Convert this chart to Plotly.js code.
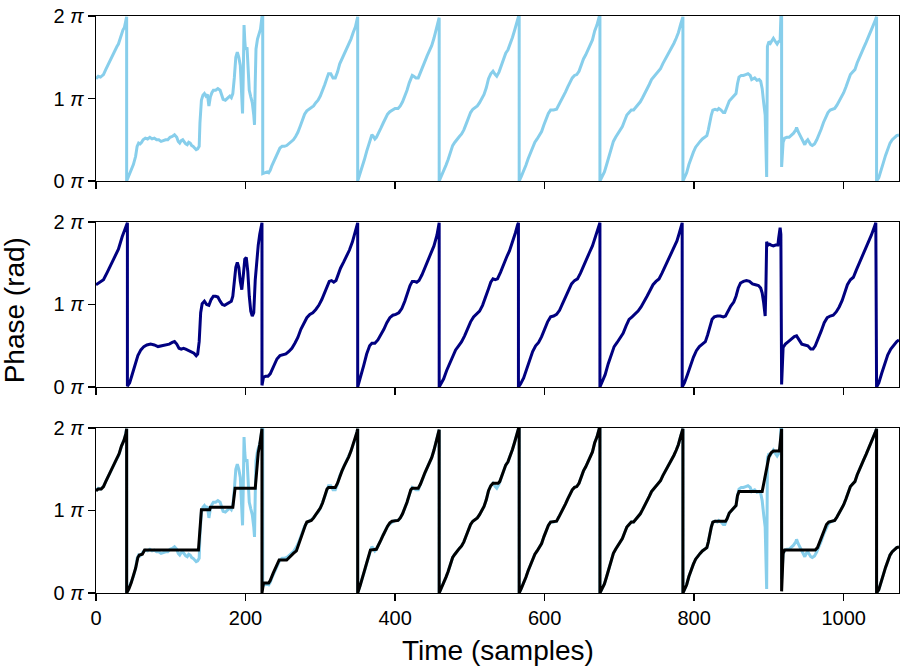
<!DOCTYPE html>
<html>
<head>
<meta charset="utf-8">
<script src="https://cdn.plot.ly/plotly-3.0.1.min.js"></script>
<style>html,body{margin:0;padding:0;background:#fff;}#chart{width:912px;height:667px;}</style>
</head>
<body>
<div id="chart"></div>
<script>
// Phase values are in units of pi (0 .. 2)
const rawTime = [
0,3,6,8,10,13,16,19,22,25,28,30,32,34,36,38,40,41,41,
44,47,50,53,55,57,59,61,63,66, 69,72,75,78,81,84,87,90,93,96, 99,102,105,108,110,112,114,116,118,120, 122,124,126,128,130,132,134,136,138,139, 141,143,145,147,149,151,153,155,157,160, 163,166,168,170,173,176,179,181,183,185, 187,189,191,193,195,196,197,198,199,200, 202,204,205,207,209,211,212,213,214,216, 218,220,222,223,223,
226,229,231,233,235,237,240,243,246,249, 252,255,258,261,264,267,270,273,276,279, 282,285,288,291,294,297,300,303,306,309, 311,314,317,320,323,326,329,332,335,338, 341,344,347,349,350,350,
353,356,359,362,365,367,369,371,373,375, 378,381,384,387,390,393,396,400,404,407, 410,413,416,419,421,423,425,428,431,434, 437,440,443,446,449,452,455,457,459,459,
462,465,468,471,474,477,480,483,486,489, 492,495,498,501,504,507,510,513,516,519, 522,525,528,531,534,536,539,542,545,548, 551,554,557,560,563,565,566,566,
569,572,575,578,581,584,587,590,593,596, 599,602,605,608,612,616,619,622,625,628, 631,634,637,640,643,646,649,652,655,658, 661,664,667,670,673,674,674,
677,680,683,686,689,692,695,698,701,704, 707,710,713,716,719,722,725,728,731,734, 737,740,743,746,749,752,755,758,761,764, 767,770,773,776,779,782,784,785,785,
788,790,793,796,799,802,805,808,811,814, 817,819,821,823,825,828,831,833,836,839, 841,844,847,850,853,856,858,860,863,866, 869,872,875,877,879,881,884,887,889,891, 893,895,897,898,900,902,904,906,908,911, 913,915,916,917,917,
919,921,924,927,930,933,936,937,939,941, 944,946,948,950,952,954,956,958,961,964, 967,970,973,976,979,982,985,988,991,994, 997,1000,1003,1006,1009,1012,1015,1018,1021,1024, 1027,1030,1033,1036,1039,1042,1044,1044,
1047,1050,1053,1056,1059,1062,1065,1068,1071,1074
];
const rawPhase = [
1.24,1.27,1.26,1.27,1.29,1.35,1.41,1.47,1.52,1.57,1.63,1.66,1.72,1.80,1.83,1.86,1.93,1.99,0.00,
0.06,0.13,0.20,0.30,0.42,0.46,0.45,0.47,0.50,0.52, 0.51,0.53,0.51,0.52,0.50,0.50,0.48,0.49,0.50,0.50, 0.53,0.54,0.56,0.53,0.48,0.46,0.49,0.50,0.47,0.45, 0.44,0.47,0.46,0.43,0.42,0.40,0.38,0.39,0.42,0.70, 0.98,1.04,1.06,1.03,1.05,0.91,1.02,1.07,1.10,1.10, 1.12,1.10,1.03,0.99,0.98,1.00,1.03,1.01,1.06,1.25, 1.50,1.56,1.50,1.40,1.00,0.82,1.30,1.89,1.70,1.59, 1.62,1.35,1.10,1.02,0.95,0.80,0.68,1.20,1.60,1.72, 1.79,1.84,1.99,1.99,0.09,
0.10,0.11,0.10,0.13,0.18,0.22,0.30,0.36,0.40,0.42, 0.42,0.43,0.45,0.47,0.50,0.54,0.59,0.66,0.74,0.81, 0.85,0.87,0.90,0.91,0.95,0.98,1.03,1.09,1.17,1.25, 1.30,1.30,1.25,1.25,1.32,1.42,1.48,1.54,1.59,1.65, 1.72,1.80,1.87,1.95,1.99,0.00,
0.08,0.17,0.26,0.36,0.45,0.52,0.56,0.54,0.51,0.53, 0.58,0.64,0.70,0.76,0.81,0.84,0.86,0.88,0.88,0.91, 0.96,1.02,1.10,1.19,1.25,1.28,1.27,1.25,1.25,1.32, 1.40,1.46,1.52,1.58,1.64,1.73,1.83,1.89,1.98,0.00,
0.06,0.11,0.19,0.26,0.35,0.43,0.47,0.51,0.54,0.57, 0.62,0.69,0.77,0.83,0.87,0.89,0.91,0.95,1.00,1.05, 1.13,1.24,1.30,1.33,1.29,1.27,1.32,1.40,1.48,1.55, 1.59,1.66,1.74,1.83,1.93,1.99,1.99,0.00,
0.06,0.12,0.19,0.27,0.34,0.41,0.47,0.51,0.55,0.60, 0.68,0.76,0.82,0.86,0.86,0.87,0.92,0.97,1.02,1.08, 1.14,1.19,1.25,1.28,1.29,1.33,1.42,1.48,1.53,1.59, 1.65,1.71,1.82,1.89,1.99,1.99,0.00,
0.06,0.11,0.20,0.30,0.41,0.48,0.53,0.57,0.61,0.66, 0.73,0.80,0.83,0.86,0.86,0.89,0.93,0.96,1.01,1.06, 1.11,1.17,1.23,1.26,1.30,1.33,1.36,1.42,1.47,1.52, 1.57,1.61,1.67,1.73,1.80,1.90,1.98,1.99,0.00,
0.06,0.10,0.20,0.28,0.35,0.41,0.45,0.48,0.51,0.53, 0.55,0.62,0.72,0.80,0.86,0.87,0.86,0.88,0.86,0.83, 0.83,0.90,0.97,1.00,1.03,1.06,1.18,1.26,1.28,1.28, 1.29,1.30,1.28,1.23,1.24,1.25,1.22,1.23,1.21,1.12, 0.95,0.80,0.05,1.63,1.69,1.67,1.70,1.73,1.70,1.66, 1.69,1.70,1.99,1.99,0.17,
0.47,0.52,0.53,0.53,0.55,0.58,0.62,0.65,0.60,0.56, 0.52,0.47,0.44,0.48,0.50,0.47,0.44,0.43,0.45,0.50, 0.56,0.63,0.71,0.77,0.83,0.86,0.87,0.88,0.92,0.97, 1.01,1.07,1.14,1.22,1.29,1.32,1.35,1.43,1.50,1.56, 1.62,1.68,1.74,1.80,1.86,1.94,1.99,0.00,
0.04,0.12,0.22,0.31,0.39,0.46,0.50,0.53,0.55,0.56
];

const smoothTime = [
0,5,10,15,20,25,30,35,40,42,42,
45,48,52,56,60,64,68,73,78,83, 88,93,98,102,105,108,111,114,117,120, 124,128,131,134,136,138,140,142,145,148, 151,154,157,160,163,166,169,172,175,178, 181,183,185,187,189,191,193,195,197,199, 201,203,205,207,209,211,213,215,217,219, 221,222,222,
224,227,230,233,236,239,242,246,250,254, 258,262,266,270,274,278,282,286,290,294, 298,302,306,309,312,315,318,321,324,327, 331,335,339,343,346,349,350,350,
354,358,362,366,369,373,377,381,385,389, 393,397,401,405,409,413,417,420,423,426, 429,432,436,440,444,448,452,456,459,459,
462,465,469,473,477,481,485,489,493,497, 501,505,509,513,517,521,525,528,531,534, 537,541,545,549,553,557,561,564,565,565,
568,572,576,580,584,588,592,596,600,604, 608,612,616,620,624,628,632,636,640,644, 648,652,656,660,664,668,671,674,674,
677,681,685,689,693,697,701,705,709,713, 717,721,725,729,733,737,741,745,749,753, 757,761,765,769,773,777,780,783,784,784,
787,791,795,799,803,807,811,815,818,821, 824,827,831,835,839,842,845,849,853,856, 859,862,866,870,874,878,882,886,889,891, 893,895,896,897,899,901,903,906,909,912, 913,915,916,917,
919,922,926,930,934,937,940,944,948,952, 956,959,962,966,970,974,978,982,986,990, 994,998,1002,1005,1009,1013,1017,1021,1025,1029, 1033,1037,1041,1043,1044,
1047,1051,1055,1059,1063,1067,1071,1074
];
const smoothPhase = [
1.24,1.27,1.30,1.39,1.49,1.58,1.67,1.82,1.94,1.99,0.01,
0.05,0.14,0.26,0.38,0.45,0.49,0.51,0.52,0.51,0.49, 0.50,0.51,0.52,0.54,0.55,0.52,0.47,0.46,0.47,0.46, 0.44,0.43,0.41,0.38,0.40,0.55,0.90,1.01,1.04,1.00, 0.99,1.06,1.10,1.10,1.09,1.04,1.00,0.99,1.01,1.02, 1.04,1.10,1.25,1.45,1.51,1.45,1.28,1.18,1.35,1.55, 1.57,1.40,1.10,0.92,0.86,0.90,1.30,1.55,1.72,1.85, 1.97,1.99,0.02,
0.12,0.13,0.13,0.16,0.22,0.29,0.34,0.38,0.39,0.40, 0.43,0.47,0.53,0.60,0.70,0.78,0.84,0.88,0.90,0.94, 0.99,1.06,1.14,1.22,1.28,1.29,1.27,1.29,1.37,1.44, 1.51,1.58,1.66,1.76,1.86,1.96,1.99,0.00,
0.12,0.26,0.40,0.50,0.53,0.53,0.57,0.63,0.70,0.78, 0.84,0.87,0.88,0.90,0.95,1.04,1.15,1.23,1.28,1.28, 1.27,1.29,1.36,1.45,1.54,1.62,1.71,1.84,1.99,0.00,
0.05,0.10,0.20,0.29,0.38,0.45,0.50,0.55,0.62,0.71, 0.79,0.85,0.88,0.92,0.99,1.08,1.19,1.27,1.31,1.30, 1.31,1.39,1.49,1.57,1.65,1.75,1.87,1.97,1.99,0.00,
0.04,0.11,0.21,0.32,0.43,0.50,0.54,0.61,0.70,0.79, 0.85,0.86,0.88,0.93,1.01,1.09,1.17,1.25,1.29,1.31, 1.38,1.47,1.55,1.63,1.71,1.82,1.91,1.99,0.00,
0.06,0.15,0.28,0.40,0.49,0.54,0.59,0.65,0.74,0.82, 0.85,0.88,0.92,0.97,1.03,1.10,1.17,1.24,1.28,1.31, 1.38,1.46,1.53,1.60,1.68,1.77,1.86,1.97,1.99,0.00,
0.05,0.15,0.26,0.36,0.44,0.49,0.52,0.55,0.63,0.74, 0.82,0.85,0.86,0.86,0.85,0.86,0.92,0.98,1.03,1.10, 1.20,1.26,1.28,1.29,1.28,1.25,1.24,1.23,1.20,1.14, 1.02,0.86,1.20,1.76,1.72,1.73,1.72,1.71,1.72,1.72, 1.80,1.93,1.85,0.03,
0.48,0.52,0.55,0.58,0.61,0.62,0.57,0.52,0.51,0.50, 0.46,0.46,0.50,0.58,0.68,0.78,0.84,0.86,0.87,0.91, 0.97,1.05,1.16,1.24,1.30,1.33,1.42,1.50,1.58,1.66, 1.75,1.84,1.94,1.99,0.00,
0.05,0.17,0.29,0.39,0.46,0.51,0.55,0.57
];

const stepTime = [
0,3,7,10,13,16,19,22,25,28,31,34,37,40,41,41,
44,47,50,53,56,58,62,65,137,140, 141,152,153,183,186,213,215,217,219,221, 222,222,
224,231,233,237,241,245,255,258,261,264, 268,271,274,277,280,282,288,291,294,297, 300,303,306,309,311,320,323,326,329,332, 335,338,341,344,347,349,350,350,
353,356,359,362,365,367,375,378,381,384, 387,390,393,396,404,407,410,413,416,419, 421,423,431,434,437,440,443,446,449,452, 455,457,459,459,
462,465,468,471,474,477,480,483,486,489, 492,495,498,501,504,507,510,513,516,519, 522,525,528,531,538,540,542,545,548,551, 554,557,560,563,565,566,566,
569,572,575,578,581,584,587,590,593,596, 599,602,605,608,616,619,622,625,628,631, 634,637,640,643,646,649,652,655,658,661, 664,667,670,673,674,674,
677,680,683,686,689,692,695,698,701,704, 707,710,713,716,719,722,725,728,731,734, 737,740,743,746,749,752,755,758,761,764, 767,770,773,776,779,782,784,785,785,
788,790,793,796,799,802,805,808,811,814, 817,819,821,823,825,828,842,844,847,850, 853,856,858,860,891,896,900,903,906,914, 916,917,917,
919,921,962,965,968,971,974,977,980,984, 988,991,994,997,1000,1003,1006,1009,1012,1015, 1018,1021,1024,1027,1030,1033,1036,1039,1042,1044, 1044,
1047,1050,1053,1056,1059,1062,1065,1068,1071,1074
];
const stepPhase = [
1.24,1.26,1.26,1.29,1.35,1.41,1.47,1.52,1.57,1.63,1.69,1.78,1.84,1.93,1.99,0.00,
0.05,0.12,0.20,0.30,0.43,0.46,0.47,0.52,0.52,0.98, 1.01,1.01,1.04,1.04,1.27,1.27,1.50,1.70,1.80,1.96, 1.99,0.00,
0.12,0.12,0.15,0.24,0.33,0.40,0.40,0.43,0.45,0.48, 0.51,0.59,0.68,0.76,0.82,0.86,0.88,0.91,0.95,0.98, 1.03,1.09,1.17,1.26,1.28,1.28,1.33,1.42,1.48,1.54, 1.59,1.65,1.72,1.80,1.87,1.95,1.99,0.00,
0.08,0.17,0.26,0.36,0.45,0.52,0.53,0.58,0.64,0.70, 0.76,0.81,0.85,0.87,0.88,0.91,0.96,1.02,1.10,1.19, 1.25,1.27,1.27,1.32,1.40,1.46,1.52,1.58,1.64,1.73, 1.83,1.89,1.98,0.00,
0.06,0.11,0.19,0.26,0.35,0.43,0.47,0.51,0.54,0.57, 0.62,0.69,0.77,0.83,0.87,0.89,0.91,0.95,1.00,1.05, 1.13,1.24,1.30,1.33,1.33,1.35,1.40,1.48,1.55,1.59, 1.66,1.74,1.83,1.93,1.99,1.99,0.00,
0.06,0.12,0.19,0.27,0.34,0.41,0.47,0.51,0.55,0.60, 0.68,0.76,0.82,0.86,0.87,0.92,0.97,1.02,1.08,1.14, 1.19,1.25,1.28,1.29,1.33,1.42,1.48,1.53,1.59,1.65, 1.71,1.82,1.89,1.99,1.99,0.00,
0.06,0.11,0.20,0.30,0.41,0.48,0.53,0.57,0.61,0.66, 0.73,0.80,0.83,0.86,0.86,0.89,0.93,0.96,1.01,1.06, 1.11,1.17,1.23,1.26,1.30,1.33,1.36,1.42,1.47,1.52, 1.57,1.61,1.67,1.73,1.80,1.90,1.98,1.99,0.00,
0.06,0.10,0.20,0.28,0.35,0.41,0.45,0.48,0.51,0.53, 0.55,0.62,0.72,0.80,0.86,0.87,0.87,0.90,0.97,1.00, 1.03,1.06,1.18,1.23,1.23,1.45,1.65,1.70,1.72,1.72, 1.99,1.99,0.02,
0.48,0.52,0.52,0.55,0.62,0.70,0.77,0.83,0.86,0.87, 0.88,0.92,0.97,1.01,1.07,1.14,1.22,1.29,1.32,1.35, 1.43,1.50,1.56,1.62,1.68,1.74,1.80,1.86,1.94,1.99, 0.00,
0.04,0.12,0.22,0.31,0.39,0.46,0.50,0.53,0.55,0.56
];

const xTickVals = [0, 200, 400, 600, 800, 1000];
const xTickText = ['0', '200', '400', '600', '800', '1000'];
const yTickVals = [0, 1, 2];
const yTickText = ['0 <i>π</i>', '1 <i>π</i>', '2 <i>π</i>'];

const SKY = '#87ceeb', NAVY = '#000080';
const FONT = 'Liberation Sans, Arial, Helvetica, sans-serif';

const traces = [
  {x: rawTime, y: rawPhase, xaxis: 'x', yaxis: 'y', mode: 'lines', line: {color: SKY, width: 3}, hoverinfo: 'skip'},
  {x: smoothTime, y: smoothPhase, xaxis: 'x2', yaxis: 'y2', mode: 'lines', line: {color: NAVY, width: 3}, hoverinfo: 'skip'},
  {x: rawTime, y: rawPhase, xaxis: 'x3', yaxis: 'y3', mode: 'lines', line: {color: SKY, width: 3}, hoverinfo: 'skip'},
  {x: stepTime, y: stepPhase, xaxis: 'x3', yaxis: 'y3', mode: 'lines', line: {color: '#000000', width: 3}, hoverinfo: 'skip'}
];

function xAx(anchor, labels) {
  return {
    anchor: anchor, domain: [0, 1], range: [0, 1074], autorange: false,
    tickmode: 'array', tickvals: xTickVals, ticktext: xTickText, showticklabels: labels,
    ticks: 'outside', ticklen: 7, tickwidth: 1.4, tickcolor: '#000',
    showline: true, mirror: true, linecolor: '#000', linewidth: 1.4,
    showgrid: false, zeroline: false,
    tickfont: {family: FONT, size: 20, color: '#000'}
  };
}
function yAx(anchor, domain) {
  return {
    anchor: anchor, domain: domain, range: [0, 2], autorange: false,
    tickmode: 'array', tickvals: yTickVals, ticktext: yTickText,
    ticks: 'outside', ticklen: 7, tickwidth: 1.4, tickcolor: '#000',
    showline: true, mirror: true, linecolor: '#000', linewidth: 1.4,
    showgrid: false, zeroline: false,
    tickfont: {family: FONT, size: 20, color: '#000'}
  };
}

const layout = {
  width: 912, height: 667,
  margin: {l: 96, r: 13, t: 16, b: 74},
  paper_bgcolor: '#fff', plot_bgcolor: '#fff',
  showlegend: false,
  font: {family: FONT, color: '#000'},
  xaxis: xAx('y', false),
  xaxis2: xAx('y2', false),
  xaxis3: xAx('y3', true),
  yaxis: yAx('x', [0.714, 1]),
  yaxis2: yAx('x2', [0.357, 0.643]),
  yaxis3: yAx('x3', [0, 0.286]),
  annotations: [
    {text: 'Phase (rad)', xref: 'paper', yref: 'paper', x: -0.102, y: 0.49,
     xanchor: 'center', yanchor: 'middle', textangle: -90, showarrow: false,
     font: {family: FONT, size: 28, color: '#000'}},
    {text: 'Time (samples)', xref: 'paper', yref: 'paper', x: 0.5, y: -0.1005,
     xanchor: 'center', yanchor: 'middle', showarrow: false,
     font: {family: FONT, size: 28, color: '#000'}}
  ]
};

Plotly.newPlot('chart', traces, layout, {staticPlot: true, displayModeBar: false});
</script>
</body>
</html>
